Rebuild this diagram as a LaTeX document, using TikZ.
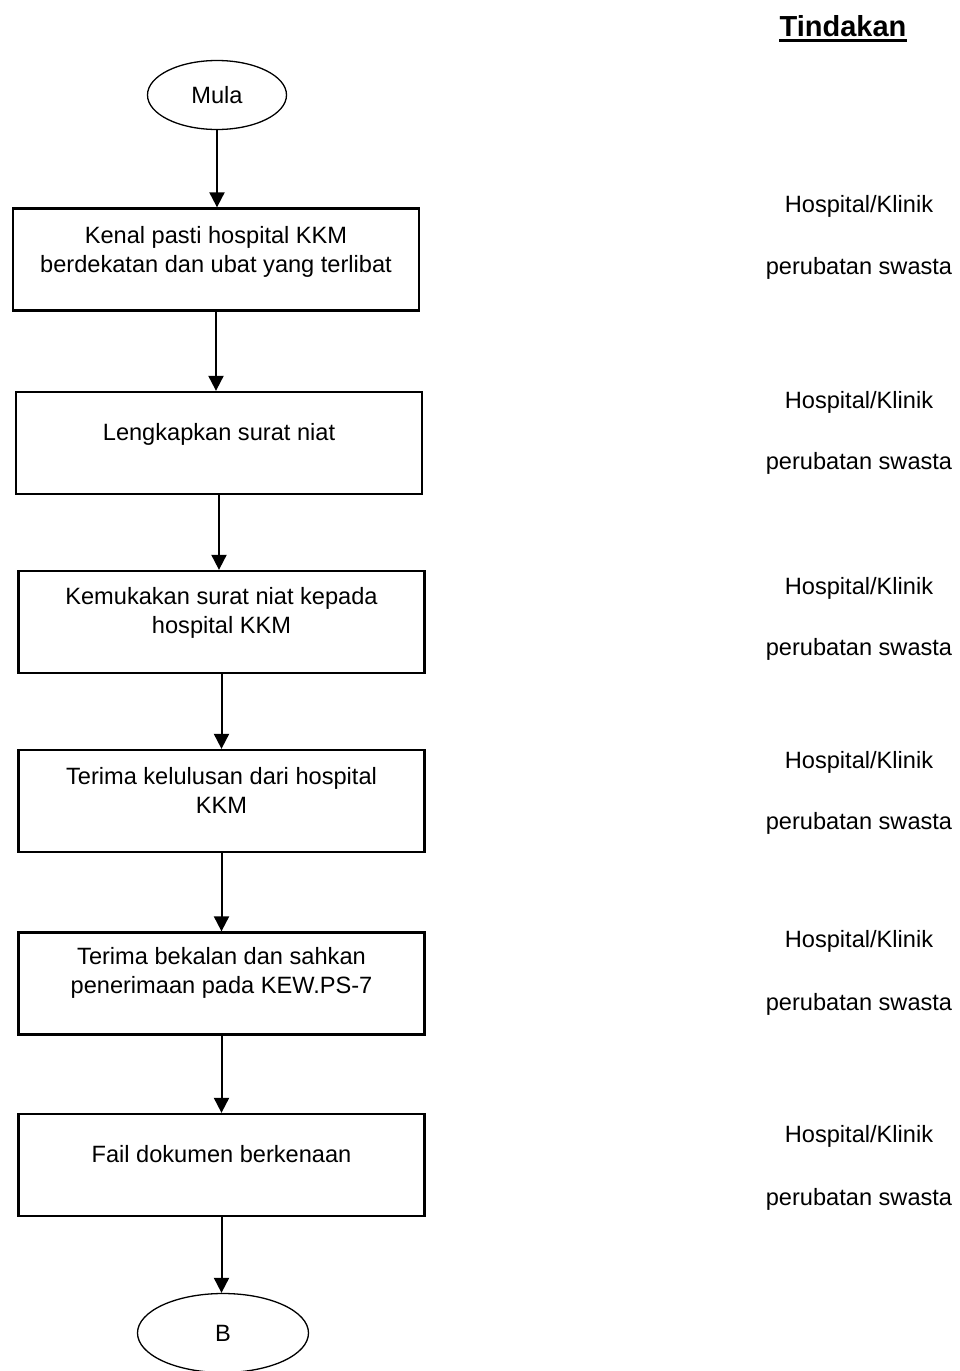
\documentclass[tikz,border=0pt]{standalone}
\usepackage{fontspec}
\setmainfont{Liberation Sans}
\usetikzlibrary{shapes.geometric,arrows.meta}
\tikzset{
  stepbox/.style={draw, line width=2.3pt, minimum width=406pt, minimum height=102pt, inner sep=0pt},
  oval/.style={draw, ellipse, line width=1.3pt, inner sep=0pt, font=\fontsize{23.6}{29}\selectfont},
  flow/.style={-{Triangle[width=15pt,length=15pt]}, line width=2pt},
  txt/.style={align=center, inner sep=0pt, font=\fontsize{23.6}{29}\selectfont},
  side/.style={anchor=base, inner sep=0pt, font=\fontsize{23.6}{29}\selectfont},
}
\begin{document}
\begin{tikzpicture}[x=1pt,y=-1pt]
			\useasboundingbox (0,0) rectangle (960,1371);
			% start and end
			\node[oval, minimum width=139pt, minimum height=69pt] (mula) at (217,95) {Mula};
			\node[oval, minimum width=171pt, minimum height=79pt] (b) at (223,1333) {B};
			% steps
			\node[stepbox] (s1) at (216,259.5) {};
			\node[stepbox] (s2) at (219,443) {};
			\node[stepbox] (s3) at (221.5,622) {};
			\node[stepbox] (s4) at (221.5,801) {};
			\node[stepbox] (s5) at (221.5,983.5) {};
			\node[stepbox] (s6) at (221.5,1165) {};
			\node[txt] (t1) at (216,251.5) {Kenal pasti hospital KKM\\berdekatan dan ubat yang terlibat};
			\node[txt] (t2) at (219,434) {Lengkapkan surat niat};
			\node[txt] (t3) at (221.5,612.5) {Kemukakan surat niat kepada\\hospital KKM};
			\node[txt] (t4) at (221.5,790) {Terima kelulusan dari hospital\\KKM};
			\node[txt] (t5) at (221.5,972.5) {Terima bekalan dan sahkan\\penerimaan pada KEW.PS-7};
			\node[txt] (t6) at (221.5,1154.5) {Fail dokumen berkenaan};
			% arrows
			\draw[flow] (mula) -- (mula |- s1.north);
			\draw[flow] (s1) -- (s1 |- s2.north);
			\draw[flow] (s2) -- (s2 |- s3.north);
			\draw[flow] (s3) -- (s3 |- s4.north);
			\draw[flow] (s4) -- (s4 |- s5.north);
			\draw[flow] (s5) -- (s5 |- s6.north);
			\draw[flow] (s6) -- (s6 |- b.north);
			% right column
			\node[anchor=base, inner sep=0pt, font=\fontsize{29}{34}\selectfont\bfseries] (tind) at (843,36) {Tindakan};
			\draw[line width=2.5pt] ([yshift=-4.5pt]tind.base west) -- ([yshift=-4.5pt]tind.base east);
			\foreach \i/\h/\p in {1/212/274, 2/408/469, 3/594/655, 4/768/829, 5/947/1010, 6/1142/1205} {
				\node[side] (h\i) at (859,\h) {Hospital/Klinik};
				\node[side] (p\i) at (859,\p) {perubatan swasta};
			}
		\end{tikzpicture}
\end{document}
